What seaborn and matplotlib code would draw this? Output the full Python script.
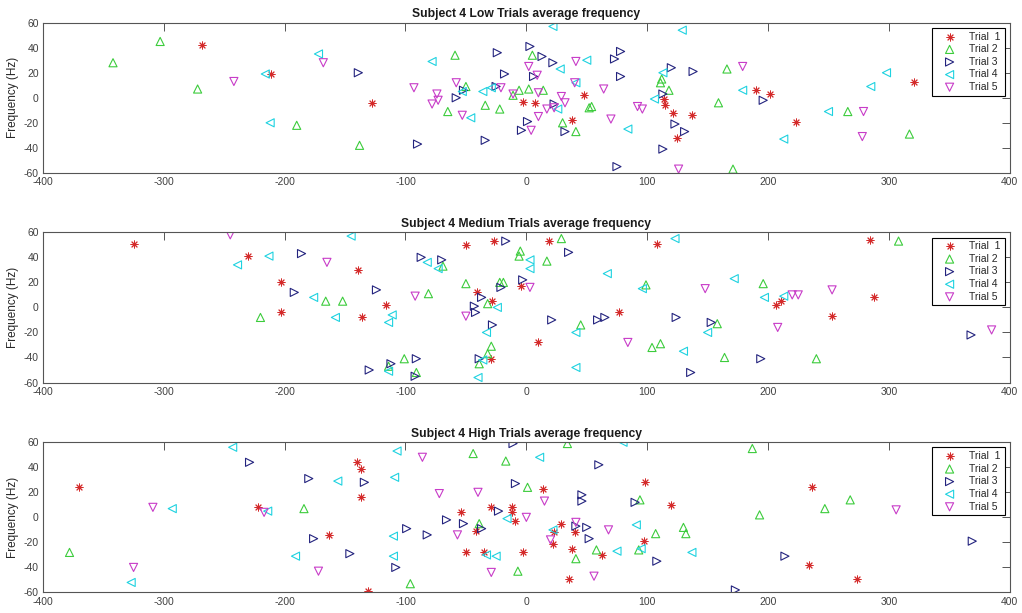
import numpy as np
import pandas as pd
import seaborn as sns
import matplotlib
matplotlib.use('Agg')
import matplotlib.pyplot as plt

# ---- data (x, y) per trial, per condition ----
# Low
low_t1_x = [-268, -211, -128, -3, 7, 38, 48, 114, 115, 121, 125, 137, 190, 202, 223, 321]
low_t1_y = [42, 19, -4, -3, -4, -18, 2, -1, -6, -12, -32, -14, 6, 3, -19, 13]
low_t2_x = [-342, -303, -272, -190, -138, -65, -59, -50, -34, -22, -11, -6, 2, 5, 14, 30, 41, 52, 54,
            111, 112, 118, 159, 166, 171, 266, 317]
low_t2_y = [28, 45, 7, -22, -38, -11, 34, 9, -6, -9, 2, 6, 7, 34, 6, -20, -27, -8, -7,
            12, 15, 6, -4, 23, -57, -11, -29]
low_t3_x = [-139, -90, -58, -52, -34, -25, -24, -18, -4, 1, 3, 6, 13, 22, 23, 32, 73, 78, 78, 75,
            113, 120, 138, 123, 131, 113, 196]
low_t3_y = [20, -37, 0, 6, -34, 9, 36, 19, -26, -19, 41, 17, 33, 28, -5, -27, 31, 37, 17, -55,
            3, 24, 21, -21, -27, -41, -2]
low_t4_x = [-216, -212, -172, -78, -53, -46, -36, -29, 22, 26, 28, 41, 50, 84, 106, 113, 129,
            179, 213, 250, 285, 298]
low_t4_y = [19, -20, 35, 29, 5, -16, 5, 8, 57, -9, 23, 12, 30, -25, -1, 20, 54,
            6, -33, -11, 9, 20]
low_t5_x = [-242, -168, -93, -78, -74, -73, -58, -53, -21, -11, 2, 4, 9, 10, 10, 17, 23, 29, 32,
            41, 40, 64, 70, 92, 96, 126, 179, 278, 279]
low_t5_y = [13, 28, 8, -5, 3, -2, 12, -14, 8, 3, 25, -26, 18, 4, -15, -9, -8, 1, -4,
            29, 12, 7, -17, -7, -9, -57, 25, -31, -11]

# Medium
med_t1_x = [-325, -230, -203, -203, -139, -136, -116, -50, -41, -29, -28, -27, -4, 10, 19, 77,
            108, 207, 211, 253, 284, 288]
med_t1_y = [51, 41, 20, -4, 30, -8, 2, 50, 12, -41, 5, 53, 17, -28, 53, -4,
            51, 2, 5, -7, 54, 8]
med_t2_x = [-220, -166, -152, -114, -101, -91, -81, -69, -50, -39, -32, -32, -29, -22, -19, -6, -5,
            17, 29, 45, 99, 104, 111, 158, 164, 196, 240, 308]
med_t2_y = [-8, 5, 5, -47, -41, -52, 11, 33, 19, -45, 3, -37, -31, 20, 20, 41, 45,
            37, 55, -14, 18, -32, -29, -13, -40, 19, -41, 53]
med_t3_x = [-192, -186, -130, -124, -112, -92, -91, -87, -70, -43, -42, -39, -37, -28, -21, -17, -3,
            21, 35, 59, 65, 124, 153, 194, 136, 368]
med_t3_y = [12, 43, -50, 14, -45, -55, -41, 40, 38, 1, -4, -41, 8, -14, 16, 53, 22,
            -10, 44, -10, -8, -8, -12, -41, -52, -22]
med_t4_x = [-239, -213, -176, -158, -145, -114, -114, -111, -82, -73, -40, -36, -33, -24, 3, 3,
            41, 41, 67, 96, 123, 130, 150, 172, 197, 213]
med_t4_y = [34, 41, 8, -8, 57, -12, -51, -6, 36, 31, -56, -42, -20, 0, 38, 31,
            -20, -48, 27, 15, 55, -35, -20, 23, 8, 9]
med_t5_x = [-245, -165, -92, -50, 3, 84, 148, 208, 220, 225, 253, 385]
med_t5_y = [58, 36, 9, -7, 16, -28, 15, -16, 10, 10, 14, -18]

# High
high_t1_x = [-370, -222, -163, -140, -137, -137, -131, -54, -50, -42, -35, -29, -12, -12, -9, -3,
             14, 22, 23, 29, 35, 38, 40, 63, 97, 98, 120, 234, 236, 274]
high_t1_y = [24, 8, -14, 44, 39, 16, -59, 4, -28, -11, -28, 8, 8, 4, -3, -28,
             23, -21, -12, -5, -49, -25, -12, -30, -19, 28, 10, -38, 24, -49]
high_t2_x = [-378, -184, -96, -44, -39, -17, -7, 1, 34, 41, 58, 93, 94, 107, 130, 132, 187, 193, 247, 268]
high_t2_y = [-28, 7, -53, 51, -5, 45, -43, 24, 59, -33, -26, -26, 14, -13, -8, -13, 55, 2, 7, 14]
high_t3_x = [-229, -180, -176, -146, -134, -108, -99, -82, -66, -52, -37, -23, -11, -9,
             41, 46, 46, 50, 52, 60, 90, 108, 173, 214, 369]
high_t3_y = [44, 31, -17, -29, 28, -40, -9, -14, -2, -5, -9, 5, 59, 27,
             -7, 18, 13, -8, -17, 42, 12, -35, -58, -31, -19]
high_t4_x = [-327, -293, -243, -214, -191, -156, -110, -110, -109, -107, -33, -25, -16,
             11, 22, 75, 80, 91, 95, 137]
high_t4_y = [-52, 7, 56, 5, -31, 29, -15, -31, 32, 53, -30, -31, -1,
             48, -10, -27, 60, -6, -25, -28]
high_t5_x = [-325, -309, -217, -172, -86, -72, -57, -40, -29, 0, 15, 20, 41, 56, 68, 306]
high_t5_y = [-40, 8, 4, -43, 48, 19, -14, 20, -44, 0, 13, -18, -4, -47, -10, 6]

conditions = ['Low', 'Medium', 'High']
trial_labels = ['Trial  1', 'Trial 2', 'Trial 3', 'Trial 4', 'Trial 5']
trial_colors = ['#d42a2a', '#3ccc3c', '#23237e', '#1ed2e0', '#c83cc8']
trial_markers = [(8, 2, 0), '^', '>', '<', 'v']

data = {
    'Low': [(low_t1_x, low_t1_y), (low_t2_x, low_t2_y), (low_t3_x, low_t3_y),
            (low_t4_x, low_t4_y), (low_t5_x, low_t5_y)],
    'Medium': [(med_t1_x, med_t1_y), (med_t2_x, med_t2_y), (med_t3_x, med_t3_y),
               (med_t4_x, med_t4_y), (med_t5_x, med_t5_y)],
    'High': [(high_t1_x, high_t1_y), (high_t2_x, high_t2_y), (high_t3_x, high_t3_y),
             (high_t4_x, high_t4_y), (high_t5_x, high_t5_y)],
}

sns.set_style('white')
plt.rcParams['font.family'] = ['Liberation Sans', 'DejaVu Sans']
plt.rcParams['axes.unicode_minus'] = False

fig = plt.figure(figsize=(10.22, 6.13), dpi=100)
tops = [0.963, 0.621, 0.2785]
height = 0.245

for i, cond in enumerate(conditions):
    ax = fig.add_axes([0.042, tops[i] - height, 0.946, height])
    for j, (xs, ys) in enumerate(data[cond]):
        df = pd.DataFrame({'x': xs, 'y': ys})
        if j == 0:
            # line-art asterisk: matplotlib draws it with the face colour
            sns.scatterplot(data=df, x='x', y='y', ax=ax, marker=trial_markers[j],
                            s=26, color=trial_colors[j], linewidth=0.7,
                            label=trial_labels[j])
        else:
            sns.scatterplot(data=df, x='x', y='y', ax=ax, marker=trial_markers[j],
                            s=34, facecolors='none', edgecolor=trial_colors[j],
                            linewidth=0.8, label=trial_labels[j])
    ax.set_xlim(-400, 400)
    ax.set_ylim(-60, 60)
    ax.set_xticks(np.arange(-400, 401, 100))
    ax.set_yticks(np.arange(-60, 61, 20))
    ax.set_xlabel('')
    ax.set_ylabel('Frequency (Hz)', fontsize=8.5, color='#262626', labelpad=3)
    ax.set_title('Subject 4 %s Trials average frequency' % cond,
                 fontsize=8.7, fontweight='bold', color='#1a1a1a', pad=4)
    ax.tick_params(direction='in', top=True, right=True, length=5.5, width=0.7,
                   color='#555555', labelsize=7.5, labelcolor='#404040', pad=3)
    for sp in ax.spines.values():
        sp.set_color('#555555')
        sp.set_linewidth(0.8)
    leg = ax.legend(loc='upper right', fontsize=7.5, fancybox=False, frameon=True,
                    edgecolor='black', framealpha=1, borderaxespad=0.5,
                    handlelength=2.6, handletextpad=0.6, labelspacing=0.25,
                    borderpad=0.35)
    leg.get_frame().set_linewidth(0.8)

fig.savefig('out.png', dpi=100)
